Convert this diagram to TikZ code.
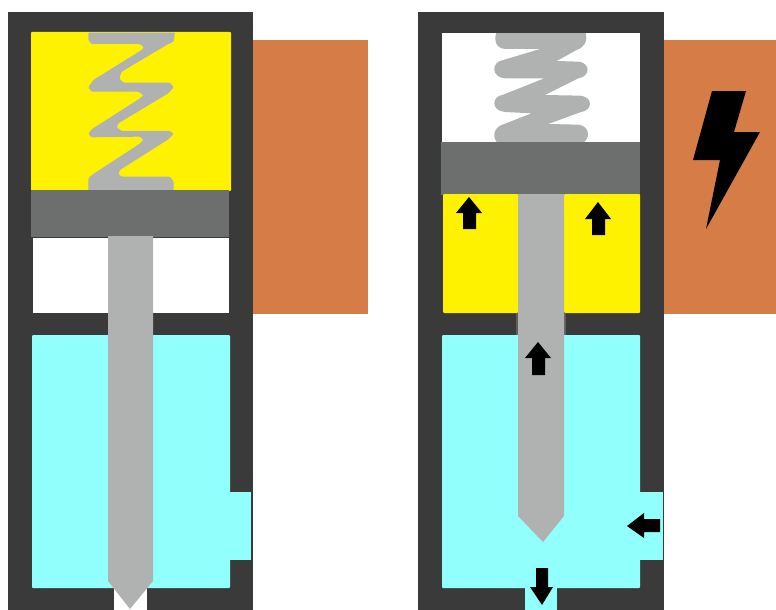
\documentclass[tikz,border=0pt]{standalone}
\definecolor{wallc}{HTML}{3A3A3A}
\definecolor{pistonc}{HTML}{6D6F6E}
\definecolor{rodc}{HTML}{B0B2B1}
\definecolor{oilc}{HTML}{FFF200}
\definecolor{waterc}{HTML}{91FFFB}
\definecolor{coilc}{HTML}{D67C46}
\tikzset{
  wall/.style={fill=wallc,draw=none},
  piston/.style={fill=pistonc,draw=none},
  rod/.style={fill=rodc,draw=none},
  oil/.style={fill=oilc,draw=none,rounded corners=1pt},
  water/.style={fill=waterc,draw=none,rounded corners=1pt},
  coil/.style={fill=coilc,draw=none},
  spring/.style={fill=rodc,draw=none,rounded corners=1pt},
  softspring/.style={fill=rodc,draw=none},
  bolt/.style={fill=black,draw=none}
}
\begin{document}
\begin{tikzpicture}[x=1pt,y=-1pt]
\useasboundingbox (0,0) rectangle (776,610);
% ---- left valve ----
\fill[coil] (253,40) rectangle (368,314);
\fill[wall] (8,12) rectangle (253,610);
\fill[oil] (31,32) rectangle (231,191);
\begin{scope}[x=0.3333pt,y=-0.3333pt]
\fill[spring] (265,98) -- (525,98) -- (521,125) -- (500,135) -- (365,215) -- (358,235) -- (370,248) -- (510,248) -- (521,262) -- (505,280) -- (355,370) -- (350,382) -- (365,393) -- (510,393) -- (521,402) -- (505,418) -- (360,510) -- (355,522) -- (365,530) -- (510,530) -- (521,545) -- (521,575) -- (265,575) -- (265,535) -- (280,522) -- (418,432) -- (430,420) -- (420,410) -- (275,412) -- (265,402) -- (275,388) -- (420,295) -- (430,285) -- (415,275) -- (275,275) -- (265,262) -- (280,240) -- (425,150) -- (432,142) -- (420,132) -- (275,132) -- (265,120) -- cycle;
\end{scope}
\fill[piston] (31,190) rectangle (229,237);
\fill[white] (33,238) rectangle (229,313);
\fill[water] (32,335) rectangle (230,588);
\fill[waterc] (225,491.5) rectangle (251,560);
\fill[white] (114,587) rectangle (147,610);
\fill[rod] (108,236) -- (153,236) -- (153,581) -- (130,609) -- (108,581) -- cycle;
% ---- right valve ----
\fill[coil] (664,40) rectangle (776,314);
\fill[wall] (417.5,12) rectangle (664,610);
\fill[white] (442,33) rectangle (640,143);
\begin{scope}[shift={(410,0)},x=0.3333pt,y=-0.3333pt]
\fill[softspring] (262,90) -- (525,90) .. controls (535,125) and (525,140) .. (500,150) -- (440,183) -- (505,185) .. controls (542,188) and (542,230) .. (505,235) -- (405,285) -- (510,287) .. controls (550,290) and (550,332) .. (510,337) -- (415,372) -- (505,374) .. controls (542,378) and (542,420) .. (515,430) -- (265,430) .. controls (245,415) and (250,385) .. (275,375) -- (365,340) -- (285,336) .. controls (243,332) and (243,290) .. (280,284) -- (403,235) -- (285,235) .. controls (243,232) and (243,185) .. (280,180) -- (390,147) -- (285,147) .. controls (255,145) and (250,115) .. (262,90) -- cycle;
\end{scope}
\fill[wall] (442,28) rectangle (640,33);
\fill[piston] (441,142) rectangle (640,195);
\fill[oil] (443,194) rectangle (518,313);
\fill[oil] (564,194) rectangle (640,313);
\fill[water] (442,335) rectangle (640,588);
\fill[waterc] (635,491.5) rectangle (663,560);
\fill[waterc] (525,580) rectangle (557,610);
\fill[wallc!70!rodc] (516,313) rectangle (566,335);
\fill[rod] (518,194) -- (564,194) -- (564,516) -- (543,542) -- (518,516) -- cycle;
% lightning bolt
\fill[bolt] (712,91) -- (746,91) -- (734,132) -- (760,132) -- (706,229) -- (720,160) -- (693,160) -- cycle;
% flow arrows
\fill (469,197) -- (482,213) -- (476,213) -- (476,229) -- (463,229) -- (463,213) -- (456,213) -- cycle;
\fill (598,202) -- (611,219) -- (605,219) -- (605,235) -- (592,235) -- (592,219) -- (585,219) -- cycle;
\fill (538,342) -- (551,358) -- (545,358) -- (545,375) -- (532,375) -- (532,358) -- (525,358) -- cycle;
\fill (627,526) -- (644,513) -- (644,519) -- (660,519) -- (660,532) -- (644,532) -- (644,538) -- cycle;
\fill (542,605) -- (530,587) -- (536,587) -- (536,568) -- (548,568) -- (548,587) -- (553,587) -- cycle;
\end{tikzpicture}
\end{document}
